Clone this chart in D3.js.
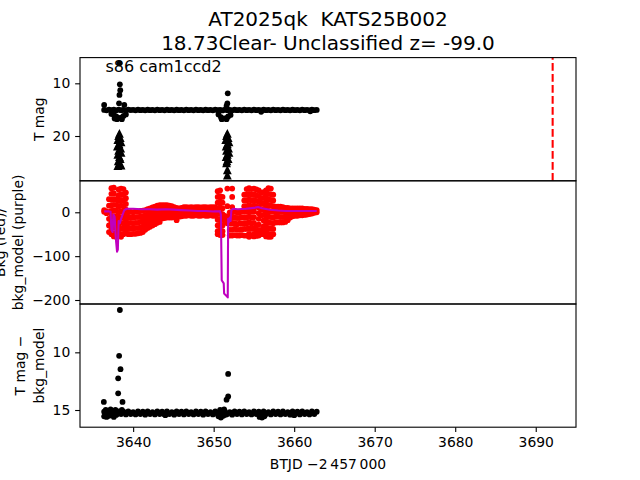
<!DOCTYPE html>
<html><head><meta charset="utf-8">
<script src="https://cdn.jsdelivr.net/npm/d3@7"></script>
<style>body{margin:0;background:#fff} text{white-space:pre}</style>
</head><body><svg id="c" width="640" height="480"></svg>
<script>
// ---------------- data ----------------
const xDomain = [3633.4, 3695.0];
const topDomain = [5.12, 28.5];
const midDomain = [-209.1, 71.8];
const botDomain = [5.81, 16.49];
const xTicks = [3640, 3650, 3660, 3670, 3680, 3690];
const topTicks = [10, 20];
const midTicks = [0, -100, -200];
const botTicks = [10, 15];
const titleLines = ["AT2025qk  KATS25B002", "18.73Clear- Unclassified z= -99.0"];
const sectorLabel = "s86 cam1ccd2";
const dashedT = 3692.1;

const times = [
3636.4,3636.7,3637.0,3637.3,3637.6,3637.9,3638.2,3638.5,3638.8,3639.1,
3639.4,3639.7,3640.0,3640.3,3640.6,3640.9,3641.2,3641.5,3641.8,3642.1,
3642.4,3642.7,3643.0,3643.3,3643.6,3643.9,3644.2,3644.5,3644.8,3645.1,
3645.4,3645.7,3646.0,3646.3,3646.6,3646.9,3647.2,3647.5,3647.8,3648.1,
3648.4,3648.7,3649.0,3649.3,3649.6,3649.9,3650.2,3650.5,3650.8,3651.1,
3651.4,3651.7,3652.0,3652.3,3652.6,3652.9,3653.2,3653.5,3653.8,3654.1,
3654.4,3654.7,3655.0,3655.3,3655.6,3655.9,3656.2,3656.5,3656.8,3657.1,
3657.4,3657.7,3658.0,3658.3,3658.6,3658.9,3659.2,3659.5,3659.8,3660.1,
3660.4,3660.7,3661.0,3661.3,3661.6,3661.9,3662.2,3662.5,3662.8];

const topMag = [
15.05,15.12,15.00,15.10,15.02,15.12,15.00,15.10,15.05,15.12,
15.00,15.08,15.04,15.12,15.00,15.10,15.05,15.12,15.02,15.10,
15.05,15.12,15.00,15.10,15.04,15.12,15.00,15.10,15.05,15.12,
15.02,15.10,15.05,15.12,15.00,15.10,15.04,15.12,15.00,15.10,
15.05,15.12,15.02,15.10,15.05,15.12,15.00,15.10,15.04,15.15,
15.00,15.10,15.05,15.12,15.02,15.10,15.05,15.12,15.00,15.10,
15.04,15.12,15.00,15.10,15.05,15.12,15.02,15.10,15.05,15.12,
15.00,15.10,15.04,15.12,15.00,15.10,15.05,15.12,15.02,15.10,
15.05,15.12,15.00,15.10,15.04,15.12,15.00,15.10,15.05];

const topExtraT = [3636.4,3637.3,3637.6,3637.9,3638.2,3638.5,3638.8,3639.1,3637.7,3638.0,3638.6,
  3638.3,3638.35,3638.4,3638.3,3638.25,3638.9,
  3650.6,3650.9,3651.2,3651.5,3651.8,3652.1,3651.0,3651.6,3651.75,3651.7,3651.6,3655.9,3662.0];
const topExtraM = [14.1,15.8,16.0,16.3,16.6,16.5,16.2,15.9,16.7,16.8,16.8,
  6.2,10.2,11.3,12.2,13.8,14.1,
  15.9,16.4,16.7,16.6,16.3,16.0,16.8,16.8,11.9,13.8,14.3,15.4,15.3];

const limT1 = [3638.3,3638.2,3638.4,3638.1,3638.5,3638.25,3638.05,3638.45,3638.2,3638.5,3638.1,3638.3,3638.4,3638.15,3638.3,3638.5,3638.1];
const limM1 = [19.5,19.9,20.3,20.7,21.1,21.5,21.9,22.3,22.7,23.1,23.5,23.9,24.3,24.7,25.1,25.5,25.6];
const limT2 = [3651.7,3651.6,3651.8,3651.5,3651.9,3651.7,3651.55,3651.85,3651.6,3651.9,3651.7,3651.55,3651.8,3651.65,3651.6,3651.7,3651.7];
const limM2 = [19.5,19.9,20.3,20.7,21.1,21.5,21.9,22.3,22.7,23.1,23.5,23.9,24.3,24.7,25.1,26.4,27.4];

const bkgCols = [
[5,1],[2,-2],[30,15,0,-15,-30,-45],[55,42,29,16,3,-10,-23,-36,-50],[56,43,30,17,4,-9,-22,-35,-48,-55],
[30,17,4,-9,-22,-35,-48,-56],[52,39,26,13,0,-13,-26,-39,-52],[54,41,28,15,2,-11,-24,-37,-50,-56],
[53,40,27,14,1,-12,-25,-38,-50],[45,32,19,6,-7,-20,-33,-46],
[0,-12,-25,-38,-50],[1,-12,-24,-37,-50],[0,-12,-25,-37,-49],[2,-11,-24,-36,-49],[1,-11,-24,-36,-48],
[3,-10,-22,-35,-47],[4,-9,-21,-33,-45],[5,-7,-19,-30,-40],[7,-5,-16,-26,-36],[9,-3,-14,-24,-33],
[11,0,-10,-20,-30],[13,2,-8,-18,-27],[15,4,-6,-15,-24],[16,5,-5,-14,-22],[16,6,-4,-14],
[16,6,-3,-13],[16,6,-3,-12],[15,5,-3,-12],[14,4,-4,-12],[12,3,-4,-11],
[10,0,-9,-18],[9,0,-10],[10,1,-9],[12,2,-8],[12,2,-8],
[11,2,-7],[12,3,-8],[11,2,-8],[12,2,-7],[12,3,-8],
[11,2,-8],[12,2,-7],[12,3,-8],[11,2,-8],[12,2,-7],
[12,3,-8],[12,2,-8],[48,35,22,9,-4,-17,-30,-43,-50],[50,37,24,11,-2,-15,-28,-41,-52],[35,22,9,-4,-17,-30,-43,-52],
[-8,-20],[54,14,-10,-25],[0,-13,-26,-40,-53],[54,35,12,0,-13,-26,-40,-53],[1,-12,-25,-38,-52],
[0,-13,-27,-40,-53],[0,-13,-26,-40,-53],[1,-12,-26,-39,-52],[40,27,14,1,-12,-25,-38,-53],[53,40,27,14,1,-12,-25,-38,-53],
[55,42,29,16,3,-10,-23,-36,-49,-56],[53,40,27,14,1,-12,-25,-38,-53],[54,41,28,15,2,-11,-24,-37,-50,-55],[52,39,26,13,-30,-43,-54],[50,37,24,11,-2,-15,-28,-41,-53],
[45,32,19,6,-7,-40,-50],[46,33,20,7,-6,-19,-32,-45,-50],[50,37,24,11,-2,-15,-28,-41,-55],[55,42,29,16,3,-10,-23,-36,-49,-56],[54,41,28,15,2,-11,-24,-37,-50,-56],
[40,27,14,1,-12,-25,-38,-50],[13,2,-10,-23],[13,2,-10,-23],[13,1,-11,-23],[12,1,-11,-23],
[10,0,-11,-22],[10,0,-9,-18],[9,0,-12],[9,0,-9],[9,0,-8],
[9,0,-8],[9,1,-7],[9,1,-7],[8,1,-6],[8,1,-5],
[7,1,-4],[7,-3],[6,-1],[5,0]];

const modelT = [3636.4,3637.0,3637.2,3637.3,3637.45,3637.55,3637.7,3637.85,3638.0,3638.1,3638.2,3638.35,3638.5,3638.7,3638.9,3639.2,
  3640,3641,3642,3643,3644,3645,3646,3647,3648,3649,3650,3650.8,3650.9,3651.0,3651.25,3651.3,3651.55,3651.75,3651.8,3651.9,3652.0,3652.1,3652.2,3652.4,
  3653,3654,3655,3655.5,3656,3657,3658,3659,3660,3661,3662,3662.8];
const modelV = [2,2,1,-40,-45,-5,-10,-60,-90,-85,-20,-25,-15,-5,5,8,
  8,7,7,6,7,6,5,4,3,3,2,2,-5,-155,-162,-185,-190,-194,-15,-22,-12,-20,5,8,
  7,8,10,12,9,6,4,3,3,3,3,3];

const botMag = [
15.15,15.38,15.12,15.35,15.18,15.40,15.12,15.35,15.15,15.38,
15.12,15.35,15.18,15.38,15.12,15.35,15.15,15.40,15.12,15.35,
15.18,15.38,15.12,15.35,15.15,15.38,15.12,15.35,15.18,15.40,
15.12,15.35,15.15,15.38,15.12,15.35,15.18,15.38,15.12,15.35,
15.15,15.40,15.12,15.35,15.18,15.38,15.12,15.35,15.15,15.38,
15.12,15.35,15.18,15.40,15.12,15.35,15.15,15.38,15.12,15.35,
15.18,15.38,15.12,15.35,15.15,15.40,15.12,15.35,15.18,15.38,
15.12,15.35,15.15,15.38,15.12,15.35,15.18,15.40,15.12,15.35,
15.15,15.38,15.12,15.35,15.18,15.38,15.12,15.35,15.15];

const botExtraT = [3636.4,3636.7,3637.0,3637.3,3637.6,3637.9,3636.6,3637.2,3637.8,3638.6,
  3636.36,3638.35,3638.26,3638.43,3638.14,3638.14,3638.68,
  3650.6,3650.9,3651.2,3651.5,3650.8,3651.3,3651.8,3651.8,3651.6,3655.7,3656.0,3656.3,3644.0,3660.0];
const botExtraM = [15.55,15.6,15.5,15.45,15.6,15.4,15.0,14.95,15.0,15.0,
  14.3,6.33,10.3,11.46,12.25,13.55,14.3,
  15.55,15.65,15.5,15.4,15.0,14.95,11.87,13.83,14.1,15.6,15.65,15.55,15.45,15.45];

// ---------------- drawing ----------------
const FONT = "DejaVu Sans";
const svg = d3.select("#c");
const L = 80, R = 576, T0 = 57.6, PH = 123.2;
const tops = [T0, T0 + PH, T0 + 2 * PH];
const x = d3.scaleLinear().domain(xDomain).range([L, R]);
const yTop = d3.scaleLinear().domain(topDomain).range([tops[0], tops[0] + PH]);
const yMid = d3.scaleLinear().domain(midDomain).range([tops[1] + PH, tops[1]]);
const yBot = d3.scaleLinear().domain(botDomain).range([tops[2], tops[2] + PH]);

const defs = svg.append("defs");
tops.forEach((t, i) => defs.append("clipPath").attr("id", "clip" + i)
  .append("rect").attr("x", L).attr("y", t).attr("width", R - L).attr("height", PH));
const panels = tops.map((t, i) => svg.append("g").attr("clip-path", `url(#clip${i})`));

const R_DOT = 2.9;
function dots(g, xs, ys, yS, color) {
  const data = d3.zip(xs, ys).filter(d => d[0] != null && d[1] != null);
  g.append("g").selectAll("circle").data(data).join("circle")
    .attr("cx", d => x(d[0])).attr("cy", d => yS(d[1])).attr("r", R_DOT).attr("fill", color);
}
// top panel
dots(panels[0], times, topMag, yTop, "#000");
dots(panels[0], topExtraT, topExtraM, yTop, "#000");
const tri = "M0,-4.4L4.4,4.4L-4.4,4.4Z";
function tris(g, xs, ys) {
  g.append("g").selectAll("path").data(d3.zip(xs, ys)).join("path")
    .attr("d", tri).attr("transform", d => `translate(${x(d[0])},${yTop(d[1])})`).attr("fill", "#000");
}
tris(panels[0], limT1, limM1);
tris(panels[0], limT2, limM2);
panels[0].append("line").attr("x1", x(dashedT)).attr("x2", x(dashedT))
  .attr("y1", tops[0] + PH).attr("y2", tops[0])
  .attr("stroke", "#ff0000").attr("stroke-width", 2.08).attr("stroke-dasharray", "7.7,3.3");

// middle panel
const bkgFlat = [];
bkgCols.forEach((col, i) => col.forEach(v => bkgFlat.push([times[i], v])));
dots(panels[1], bkgFlat.map(d => d[0]), bkgFlat.map(d => d[1]), yMid, "#ff0000");
panels[1].append("path").datum(d3.zip(modelT, modelV))
  .attr("d", d3.line().x(d => x(d[0])).y(d => yMid(d[1])))
  .attr("fill", "none").attr("stroke", "#bf00bf").attr("stroke-width", 2.08).attr("stroke-linejoin", "round");

// bottom panel
dots(panels[2], times, botMag, yBot, "#000");
dots(panels[2], botExtraT, botExtraM, yBot, "#000");

// axes
function styleAxis(g) {
  g.attr("font-family", FONT).attr("font-size", "13.9px");
  g.select(".domain").remove();
  g.selectAll(".tick line").attr("stroke", "#000").attr("stroke-width", 1.1);
  g.selectAll(".tick text").attr("fill", "#000");
}
function yAxis(yS, ticks) {
  svg.append("g").attr("transform", `translate(${L},0)`)
    .call(d3.axisLeft(yS).tickValues(ticks).tickSize(4.86).tickPadding(4.86).tickFormat(d3.format("d")))
    .call(styleAxis);
}
yAxis(yTop, topTicks); yAxis(yMid, midTicks); yAxis(yBot, botTicks);
svg.append("g").attr("transform", `translate(0,${tops[2] + PH})`)
  .call(d3.axisBottom(x).tickValues(xTicks).tickSize(4.86).tickPadding(4.86).tickFormat(d3.format("d")))
  .call(styleAxis);

// frames
tops.forEach(t => svg.append("rect").attr("x", L).attr("y", t).attr("width", R - L).attr("height", PH)
  .attr("fill", "none").attr("stroke", "#000").attr("stroke-width", 1.1));

// texts
const cx = (L + R) / 2;
function txt(s, xx, yy, size, anchor, rot) {
  const t = svg.append("text").attr("font-family", FONT).attr("font-size", size + "px")
    .attr("fill", "#000").attr("text-anchor", anchor || "start").text(s);
  if (rot) t.attr("transform", `translate(${xx},${yy}) rotate(-90)`);
  else t.attr("x", xx).attr("y", yy);
  return t;
}
txt(titleLines[0], cx, 25.5, 20, "middle");
txt(titleLines[1], cx, 49.5, 20, "middle");
txt(sectorLabel, 105.5, 72, 16, "start");
txt("T mag", 43.7, tops[0] + PH / 2, 13.9, "middle", true);
txt("Bkg (red)/", 4.8, tops[1] + PH / 2, 13.9, "middle", true);
txt("bkg_model (purple)", 23.3, tops[1] + PH / 2, 13.9, "middle", true);
txt("T mag \u2212", 25.2, tops[2] + PH / 2, 13.9, "middle", true);
txt("bkg_model", 43.7, tops[2] + PH / 2, 13.9, "middle", true);
txt("BTJD \u22122\u2009457\u2009000", cx, 468.5, 13.9, "middle");
</script></body></html>
